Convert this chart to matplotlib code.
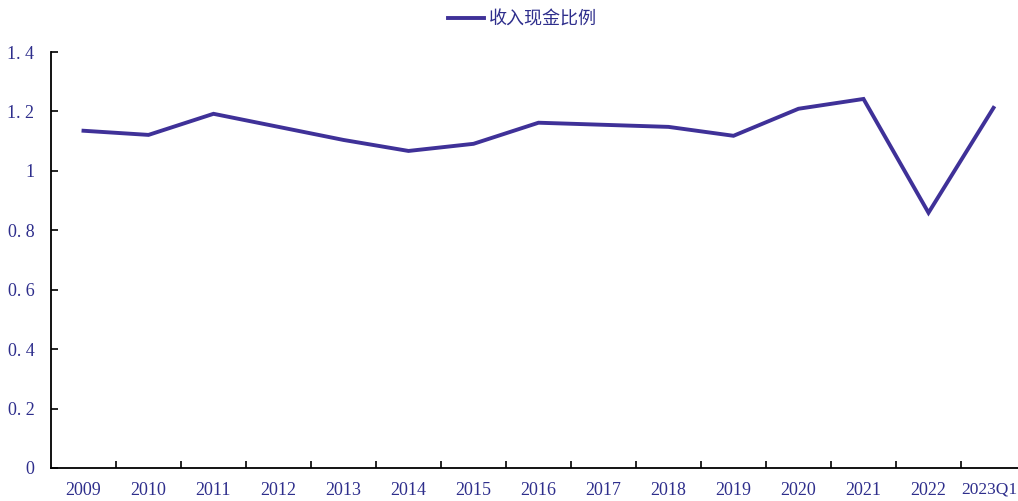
import numpy as np
import matplotlib

matplotlib.use("Agg")
import matplotlib.pyplot as plt
import matplotlib.transforms as mtransforms
from matplotlib.ticker import FixedLocator, NullFormatter

categories = ["2009", "2010", "2011", "2012", "2013", "2014", "2015", "2016",
              "2017", "2018", "2019", "2020", "2021", "2022", "2023Q1"]
ratio = [1.135, 1.121, 1.192, 1.148, 1.104, 1.067, 1.091, 1.162,
         1.155, 1.148, 1.118, 1.209, 1.242, 0.859, 1.212]
series_name = "收入现金比例"

line_color = "#3f3198"
text_color = "#2e2e8c"

plt.rcParams["font.family"] = ["Liberation Serif", "Noto Sans CJK SC"]

fig = plt.figure(figsize=(10.18, 5.01), dpi=100)
ax = fig.add_axes([51 / 1018, 33 / 501, 975 / 1018, 416 / 501])

x = np.arange(len(categories))
ax.plot(x, ratio, color=line_color, linewidth=2.8, label=series_name,
        solid_joinstyle="miter")

ax.set_xlim(-0.5, len(categories) - 0.5)
ax.set_ylim(0, 1.4)
ax.set_yticks([0, 0.2, 0.4, 0.6, 0.8, 1.0, 1.2, 1.4])
ax.set_yticklabels(["0", "0. 2", "0. 4", "0. 6", "0. 8", "1", "1. 2", "1. 4"])

ax.xaxis.set_major_locator(FixedLocator(x[:-1] + 0.5))
ax.xaxis.set_major_formatter(NullFormatter())
ax.xaxis.set_minor_locator(FixedLocator(x))
ax.set_xticklabels(categories, minor=True)

ax.tick_params(axis="x", which="major", direction="in", length=5, width=1.2, color="black")
ax.tick_params(axis="x", which="minor", length=0, pad=10, labelsize=13, labelcolor=text_color)
ax.tick_params(axis="y", direction="in", length=5, width=1.2, color="black",
               pad=12, labelsize=13, labelcolor=text_color)

# last label is wider and sits at the right edge, nudge it left a bit
last = ax.get_xticklabels(minor=True)[-1]
last.set_fontsize(12.5)
last.set_horizontalalignment("right")
last.set_transform(last.get_transform() + mtransforms.ScaledTranslation(24 / 100, 0, fig.dpi_scale_trans))

for side in ["top", "right"]:
    ax.spines[side].set_visible(False)
for side in ["left", "bottom"]:
    ax.spines[side].set_linewidth(1.3)
    ax.spines[side].set_color("black")

leg = fig.legend(loc="upper center", bbox_to_anchor=(0.513, 1.012), frameon=False,
                 handlelength=2.0, handletextpad=0.25,
                 prop={"family": ["Noto Sans CJK SC"], "size": 13})
for t in leg.get_texts():
    t.set_color(text_color)

fig.savefig("out.png", dpi=100)
